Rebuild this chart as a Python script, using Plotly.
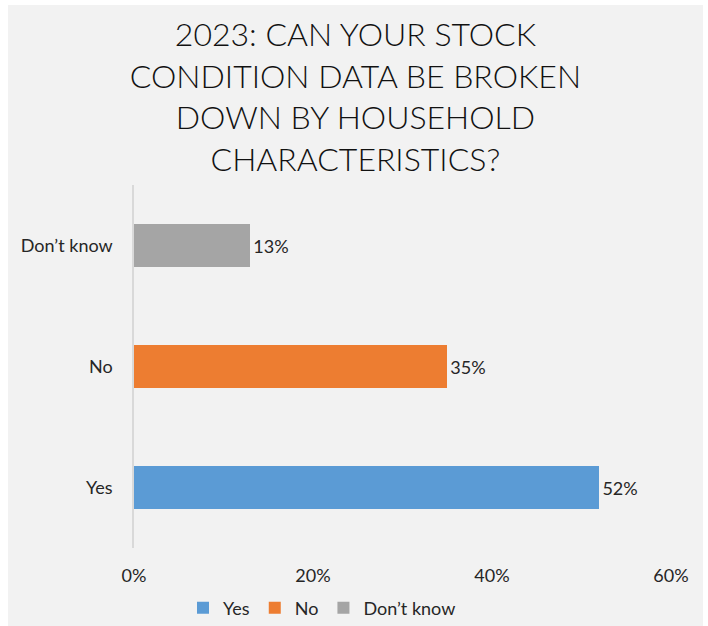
import plotly.graph_objects as go

categories = ["Yes", "No", "Don\u2019t know"]
values = [52, 35, 13]
colors = ["#5b9bd5", "#ed7d31", "#a5a5a5"]
x_ticks = [0, 20, 40, 60]
x_tick_labels = ["0%", "20%", "40%", "60%"]
title_text = "2023: CAN YOUR STOCK<br>CONDITION DATA BE BROKEN<br>DOWN BY HOUSEHOLD<br>CHARACTERISTICS?"

W, H = 708, 626
L, R, T, B = 134, 37, 185, 78
pw, ph = W - L - R, H - T - B
FONT = "Lato, Open Sans, sans-serif"

fig = go.Figure()
for cat, val, col in zip(categories, values, colors):
    fig.add_trace(go.Bar(
        y=[cat], x=[val], name=cat, orientation="h",
        marker=dict(color=col, line=dict(width=0)),
        width=0.36,
        text=[f"{val}%"], textposition="outside",
        textfont=dict(family=FONT, size=18, color="#262626"),
        cliponaxis=False,
    ))

def px_x(p):
    return (p - L) / pw

def px_y(p):
    return (H - B - p) / ph

fig.update_layout(
    width=W, height=H,
    margin=dict(l=L, r=R, t=T, b=B, autoexpand=False),
    paper_bgcolor="white",
    plot_bgcolor="rgba(0,0,0,0)",
    barmode="stack",
    title=dict(
        text=title_text,
        x=0.502, xanchor="center",
        y=1 - 46 / H, yanchor="top", yref="container",
        font=dict(family=FONT, size=32, color="#111111", weight=300),
    ),
    xaxis=dict(
        range=[0, 60], tickvals=x_ticks, ticktext=x_tick_labels,
        showgrid=False, zeroline=False, showline=False,
        tickfont=dict(family=FONT, size=18, color="#262626"),
        ticklabelstandoff=15,
    ),
    yaxis=dict(
        categoryorder="array", categoryarray=categories,
        showgrid=False, zeroline=False,
        showline=True, linecolor="#d9d9d9", linewidth=1.5,
        tickfont=dict(family=FONT, size=18, color="#262626"),
        ticklabelstandoff=16,
    ),
    legend=dict(
        orientation="h", x=322 / W, xanchor="center", xref="container",
        y=1 - 608 / H, yanchor="middle", yref="container",
        font=dict(family=FONT, size=18, color="#262626"),
        bgcolor="rgba(0,0,0,0)",
        traceorder="normal",
        itemwidth=30,
    ),
    showlegend=True,
    shapes=[dict(
        type="rect", xref="paper", yref="paper",
        x0=px_x(8), x1=px_x(703), y0=px_y(H + 20), y1=px_y(5),
        fillcolor="#f2f2f2", line=dict(width=0), layer="below",
    )],
)

fig.write_html("out.html")
